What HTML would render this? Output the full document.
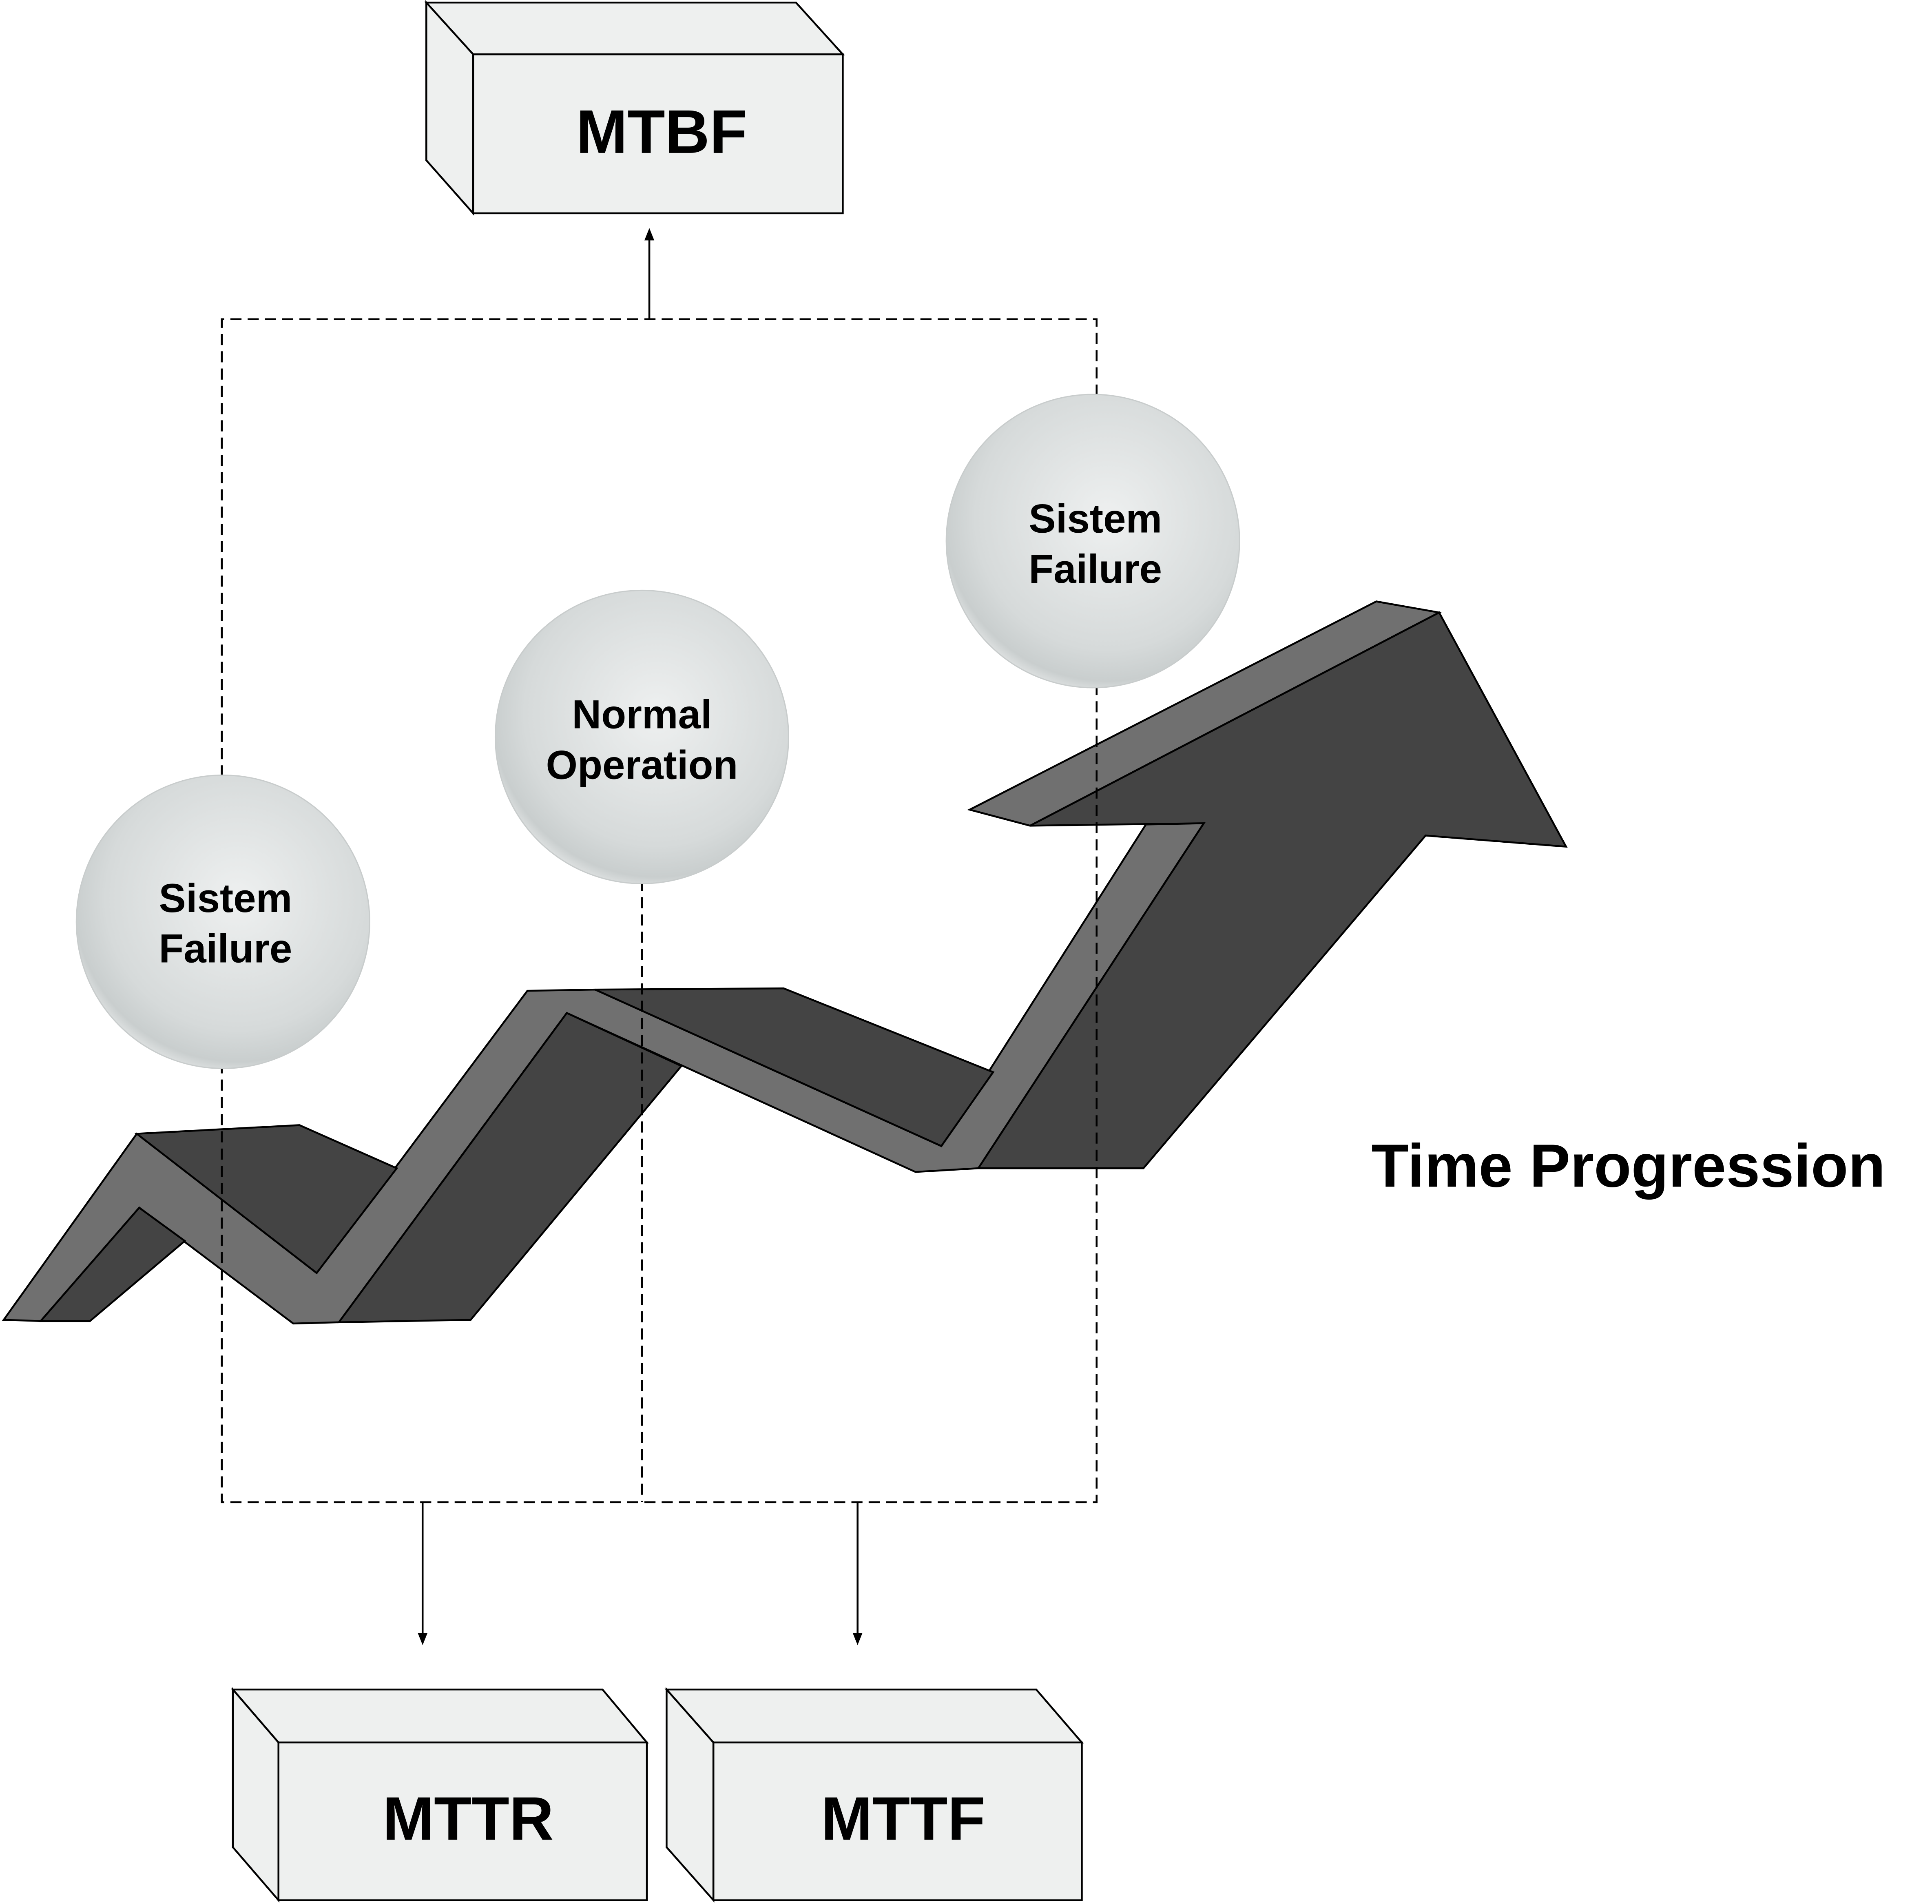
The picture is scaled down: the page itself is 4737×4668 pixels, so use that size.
<!DOCTYPE html>
<html><head><meta charset="utf-8"><style>
html,body{margin:0;padding:0;background:#fff;}
svg{display:block;}
text{font-family:"Liberation Sans",sans-serif;font-weight:bold;fill:#000;}
</style></head><body>
<svg width="4737" height="4668" viewBox="0 0 1568 1545" xmlns="http://www.w3.org/2000/svg">
<defs>
<radialGradient id="g" cx="0.55" cy="0.42" r="0.6">
<stop offset="0" stop-color="#eef0f0"/><stop offset="0.75" stop-color="#d6dada"/><stop offset="0.93" stop-color="#c9cece"/><stop offset="1" stop-color="#dfe2e2"/>
</radialGradient>
<marker id="a" markerWidth="10" markerHeight="10" refX="5" refY="5" orient="auto" markerUnits="userSpaceOnUse"><path d="M0,1 L10,5 L0,9 Z" fill="#000"/></marker>
</defs>
<rect width="1568" height="1545" fill="#fff"/>
<g stroke="#000" stroke-width="1.5" fill="#eef0ef">
<polygon points="346,2 646,2 684,44 384,44"/>
<polygon points="346,2 384,44 384,173 346,130"/>
<rect x="384" y="44" width="300" height="129"/>
<polygon points="189,1371 489,1371 525,1414 226,1414"/>
<polygon points="189,1371 226,1414 226,1542 189,1499"/>
<rect x="226" y="1414" width="299" height="128"/>
<polygon points="541,1371 841,1371 878,1414 579,1414"/>
<polygon points="541,1371 579,1414 579,1542 541,1499"/>
<rect x="579" y="1414" width="299" height="128"/>
</g>
<text x="537" y="124" font-size="50" text-anchor="middle">MTBF</text>
<text x="380" y="1493" font-size="50" text-anchor="middle">MTTR</text>
<text x="733" y="1493" font-size="50" text-anchor="middle">MTTF</text>
<g stroke="#000" stroke-width="1.5" stroke-linejoin="miter">
<polygon fill="#707070" points="3,1071 111,920 257,1033 428,804 483,803 764,930 930,669 977,668 794,948 743,951 460,822 275,1073 238,1074 113,980 33,1072"/>
<polygon fill="#444" points="33,1072 113,980 150,1007 73,1072"/>
<polygon fill="#444" points="111,920 243,913 322,948 257,1033"/>
<polygon fill="#444" points="275,1073 460,822 553,865 382,1071"/>
<polygon fill="#444" points="483,803 636,802 806,870 764,930"/>
<polygon fill="#707070" points="787,657 1117,488 1168,497 836,670"/>
<polygon fill="#444" points="794,948 977,668 836,670 1168,497 1271,687 1157,678 928,948"/>
</g>
<g stroke="#000" stroke-width="1.5" stroke-dasharray="9,5" fill="none">
<polyline points="180,630 180,259 890,259 890,322"/>
<polyline points="180,862 180,1219 890,1219 890,555"/>
<line x1="521" y1="714" x2="521" y2="1219"/>
</g>
<g stroke="#000" stroke-width="1.5">
<line x1="527" y1="259" x2="527" y2="190" marker-end="url(#a)"/>
<line x1="343" y1="1219" x2="343" y2="1330" marker-end="url(#a)"/>
<line x1="696" y1="1219" x2="696" y2="1330" marker-end="url(#a)"/>
</g>
<g fill="url(#g)" stroke="#c8cccc" stroke-width="1">
<circle cx="181" cy="748" r="119"/>
<circle cx="521" cy="598" r="119"/>
<circle cx="887" cy="439" r="119"/>
</g>
<g font-size="33" text-anchor="middle">
<text x="183" y="740">Sistem</text><text x="183" y="781">Failure</text>
<text x="521" y="591">Normal</text><text x="521" y="632">Operation</text>
<text x="889" y="432">Sistem</text><text x="889" y="473">Failure</text>
</g>
<text x="1113" y="963" font-size="49.5">Time Progression</text>
</svg>
</body></html>
